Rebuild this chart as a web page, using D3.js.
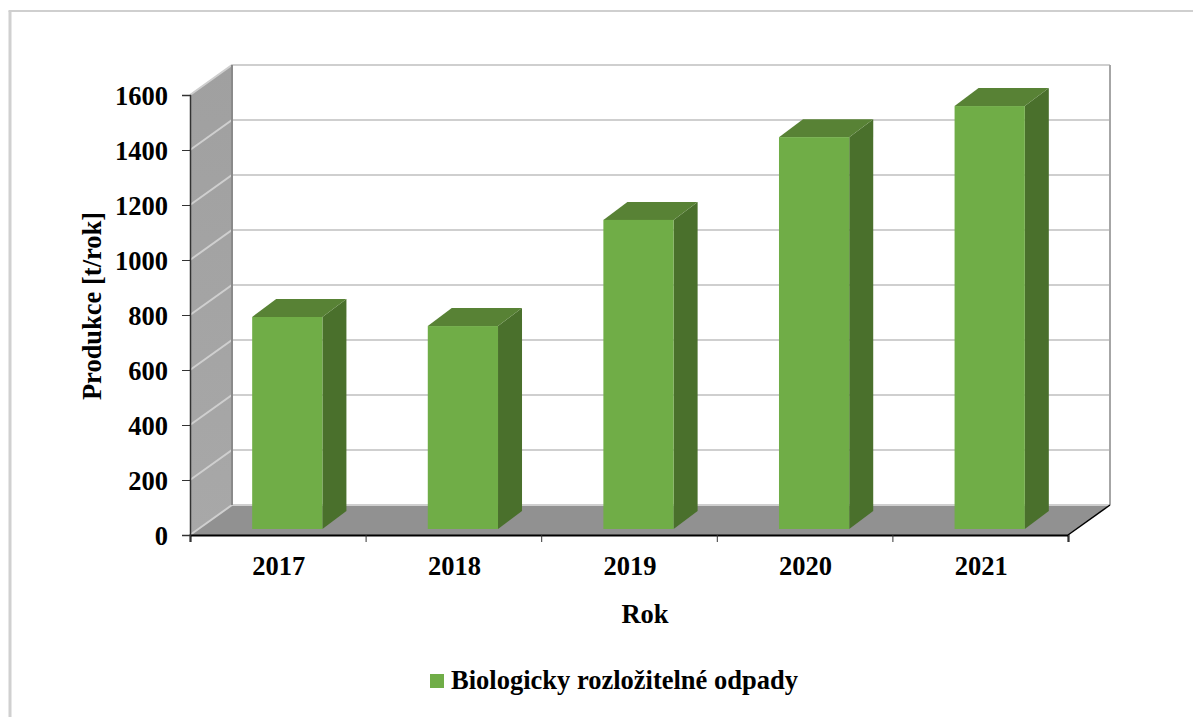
<!DOCTYPE html>
<html>
<head>
<meta charset="utf-8">
<script src="https://cdn.jsdelivr.net/npm/d3@7"></script>
<style>
  html, body { margin: 0; padding: 0; background: #fff; }
  svg { display: block; }
  text { font-family: "Liberation Serif", "Times New Roman", serif; font-weight: bold; fill: #000; }
</style>
</head>
<body>
<div class="chart"></div>
<script>
// Chart data
const years = ["2017", "2018", "2019", "2020", "2021"];
const production = [771, 738, 1124, 1425, 1538];
const yTicks = [0, 200, 400, 600, 800, 1000, 1200, 1400, 1600];
const seriesName = "Biologicky rozložitelné odpady";
const yTitle = "Produkce [t/rok]";
const xTitle = "Rok";

let svgWidth = 1193;
let svgHeight = 717;
let fontSize = "26.5px";

// front plane of the 3D box
let plot = {left: 190, right: 1068, top: 95, bottom: 535};
// how far the back wall sits from the front plane
let depth = {x: 42, y: -30};
// bars sit in the middle of the floor depth
let barFront = {x: 9.5, y: -6};
let barDepth = {x: 24, y: -18};

let svg = d3.select(".chart").append("svg")
  .attr("width", svgWidth)
  .attr("height", svgHeight);

let defs = svg.append("defs");
let wallGrad = defs.append("linearGradient")
  .attr("id", "wallGrad")
  .attr("x1", 0).attr("y1", 0).attr("x2", 0).attr("y2", 1);
wallGrad.append("stop").attr("offset", "0%").attr("stop-color", "#a0a0a0");
wallGrad.append("stop").attr("offset", "100%").attr("stop-color", "#a8a8a8");

// outer frame, only top and left edges are in view
svg.append("path")
  .attr("d", "M10,717V11")
  .attr("stroke", "#d0d0d0")
  .attr("stroke-width", 3);
svg.append("path")
  .attr("d", "M8.5,11H1193")
  .attr("stroke", "#cfcfcf")
  .attr("stroke-width", 2);

let x = d3.scaleBand()
  .domain(years)
  .range([plot.left, plot.right])
  .paddingInner(0.6)
  .paddingOuter(0.3);

let y = d3.scaleLinear()
  .domain([0, 1600])
  .range([plot.bottom, plot.top]);

// left wall
svg.append("path")
  .attr("d", `M${plot.left},${plot.bottom}V${plot.top}l${depth.x},${depth.y}V${plot.bottom + depth.y}Z`)
  .attr("fill", "url(#wallGrad)");

// floor
svg.append("path")
  .attr("d", `M${plot.left},${plot.bottom}H${plot.right}l${depth.x},${depth.y}H${plot.left + depth.x}Z`)
  .attr("fill", "#919191");

// gridlines on the side wall and back wall
let grid = svg.append("g").attr("fill", "none").attr("stroke", "#cfcfcf").attr("stroke-width", 2);
grid.selectAll("path")
  .data(yTicks)
  .enter()
  .append("path")
  .attr("d", d => `M${plot.left},${y(d)}l${depth.x},${depth.y}H${plot.right + depth.x}`);

// wall edges
svg.append("path")
  .attr("d", `M${plot.left + depth.x},${plot.top + depth.y}V${plot.bottom + depth.y}`)
  .attr("stroke", "#8a8a8a").attr("stroke-width", 2);
svg.append("path")
  .attr("d", `M${plot.right + depth.x},${plot.top + depth.y}V${plot.bottom + depth.y}`)
  .attr("stroke", "#a6a6a6").attr("stroke-width", 2);
svg.append("path")
  .attr("d", `M${plot.right},${plot.bottom}l${depth.x},${depth.y}`)
  .attr("stroke", "#000").attr("stroke-width", 1.5);

// bars
let bars = svg.append("g").selectAll("g")
  .data(years)
  .enter()
  .append("g")
  .attr("transform", d => `translate(${x(d) + barFront.x},${barFront.y})`);
let barValue = (d, i) => production[i];

// right side
bars.append("path")
  .attr("d", (d, i) => `M${x.bandwidth()},${y(barValue(d, i))}l${barDepth.x},${barDepth.y}V${y(0) + barDepth.y}l${-barDepth.x},${-barDepth.y}Z`)
  .attr("fill", "#4a702c");
// top
bars.append("path")
  .attr("d", (d, i) => `M0,${y(barValue(d, i))}l${barDepth.x},${barDepth.y}H${x.bandwidth() + barDepth.x}l${-barDepth.x},${-barDepth.y}Z`)
  .attr("fill", "#588235");
// front
bars.append("rect")
  .attr("x", 0)
  .attr("y", (d, i) => y(barValue(d, i)))
  .attr("width", x.bandwidth())
  .attr("height", (d, i) => y(0) - y(barValue(d, i)))
  .attr("fill", "#70ad47");

// axes
let bottomAxis = d3.axisBottom(d3.scalePoint().domain(d3.range(years.length + 1)).range([plot.left, plot.right]))
  .tickSize(7)
  .tickFormat("");
let xAxisG = svg.append("g")
  .attr("transform", `translate(0, ${plot.bottom})`)
  .call(bottomAxis);
xAxisG.select(".domain").attr("stroke", "#000").attr("stroke-width", 2);
xAxisG.selectAll(".tick line").attr("stroke", "#333");

let leftAxis = d3.axisLeft(y).tickValues(yTicks).tickSize(8).tickPadding(14).tickFormat(d3.format("d"));
let yAxisG = svg.append("g")
  .attr("transform", `translate(${plot.left}, 0)`)
  .call(leftAxis);
yAxisG.select(".domain").attr("stroke", "#333").attr("stroke-width", 1.5);
yAxisG.selectAll(".tick line").attr("stroke", "#333");
yAxisG.selectAll("text")
  .attr("y", 1.5)
  .style("font-family", '"Liberation Serif", serif')
  .style("font-size", fontSize);

// year labels
svg.append("g").selectAll("text")
  .data(years)
  .enter()
  .append("text")
  .attr("x", d => x(d) + x.bandwidth() / 2 + 1)
  .attr("y", 575)
  .attr("text-anchor", "middle")
  .style("font-size", fontSize)
  .text(d => d);

// axis titles
svg.append("text")
  .attr("x", 645)
  .attr("y", 623)
  .attr("text-anchor", "middle")
  .style("font-size", fontSize)
  .text(xTitle);

svg.append("text")
  .attr("transform", "translate(101, 306) rotate(-90)")
  .attr("text-anchor", "middle")
  .style("font-size", fontSize)
  .text(yTitle);

// legend
svg.append("rect")
  .attr("x", 430)
  .attr("y", 674)
  .attr("width", 14)
  .attr("height", 14)
  .attr("fill", "#70ad47");
svg.append("text")
  .attr("x", 451)
  .attr("y", 689)
  .style("font-size", fontSize)
  .text(seriesName);
</script>
</body>
</html>
